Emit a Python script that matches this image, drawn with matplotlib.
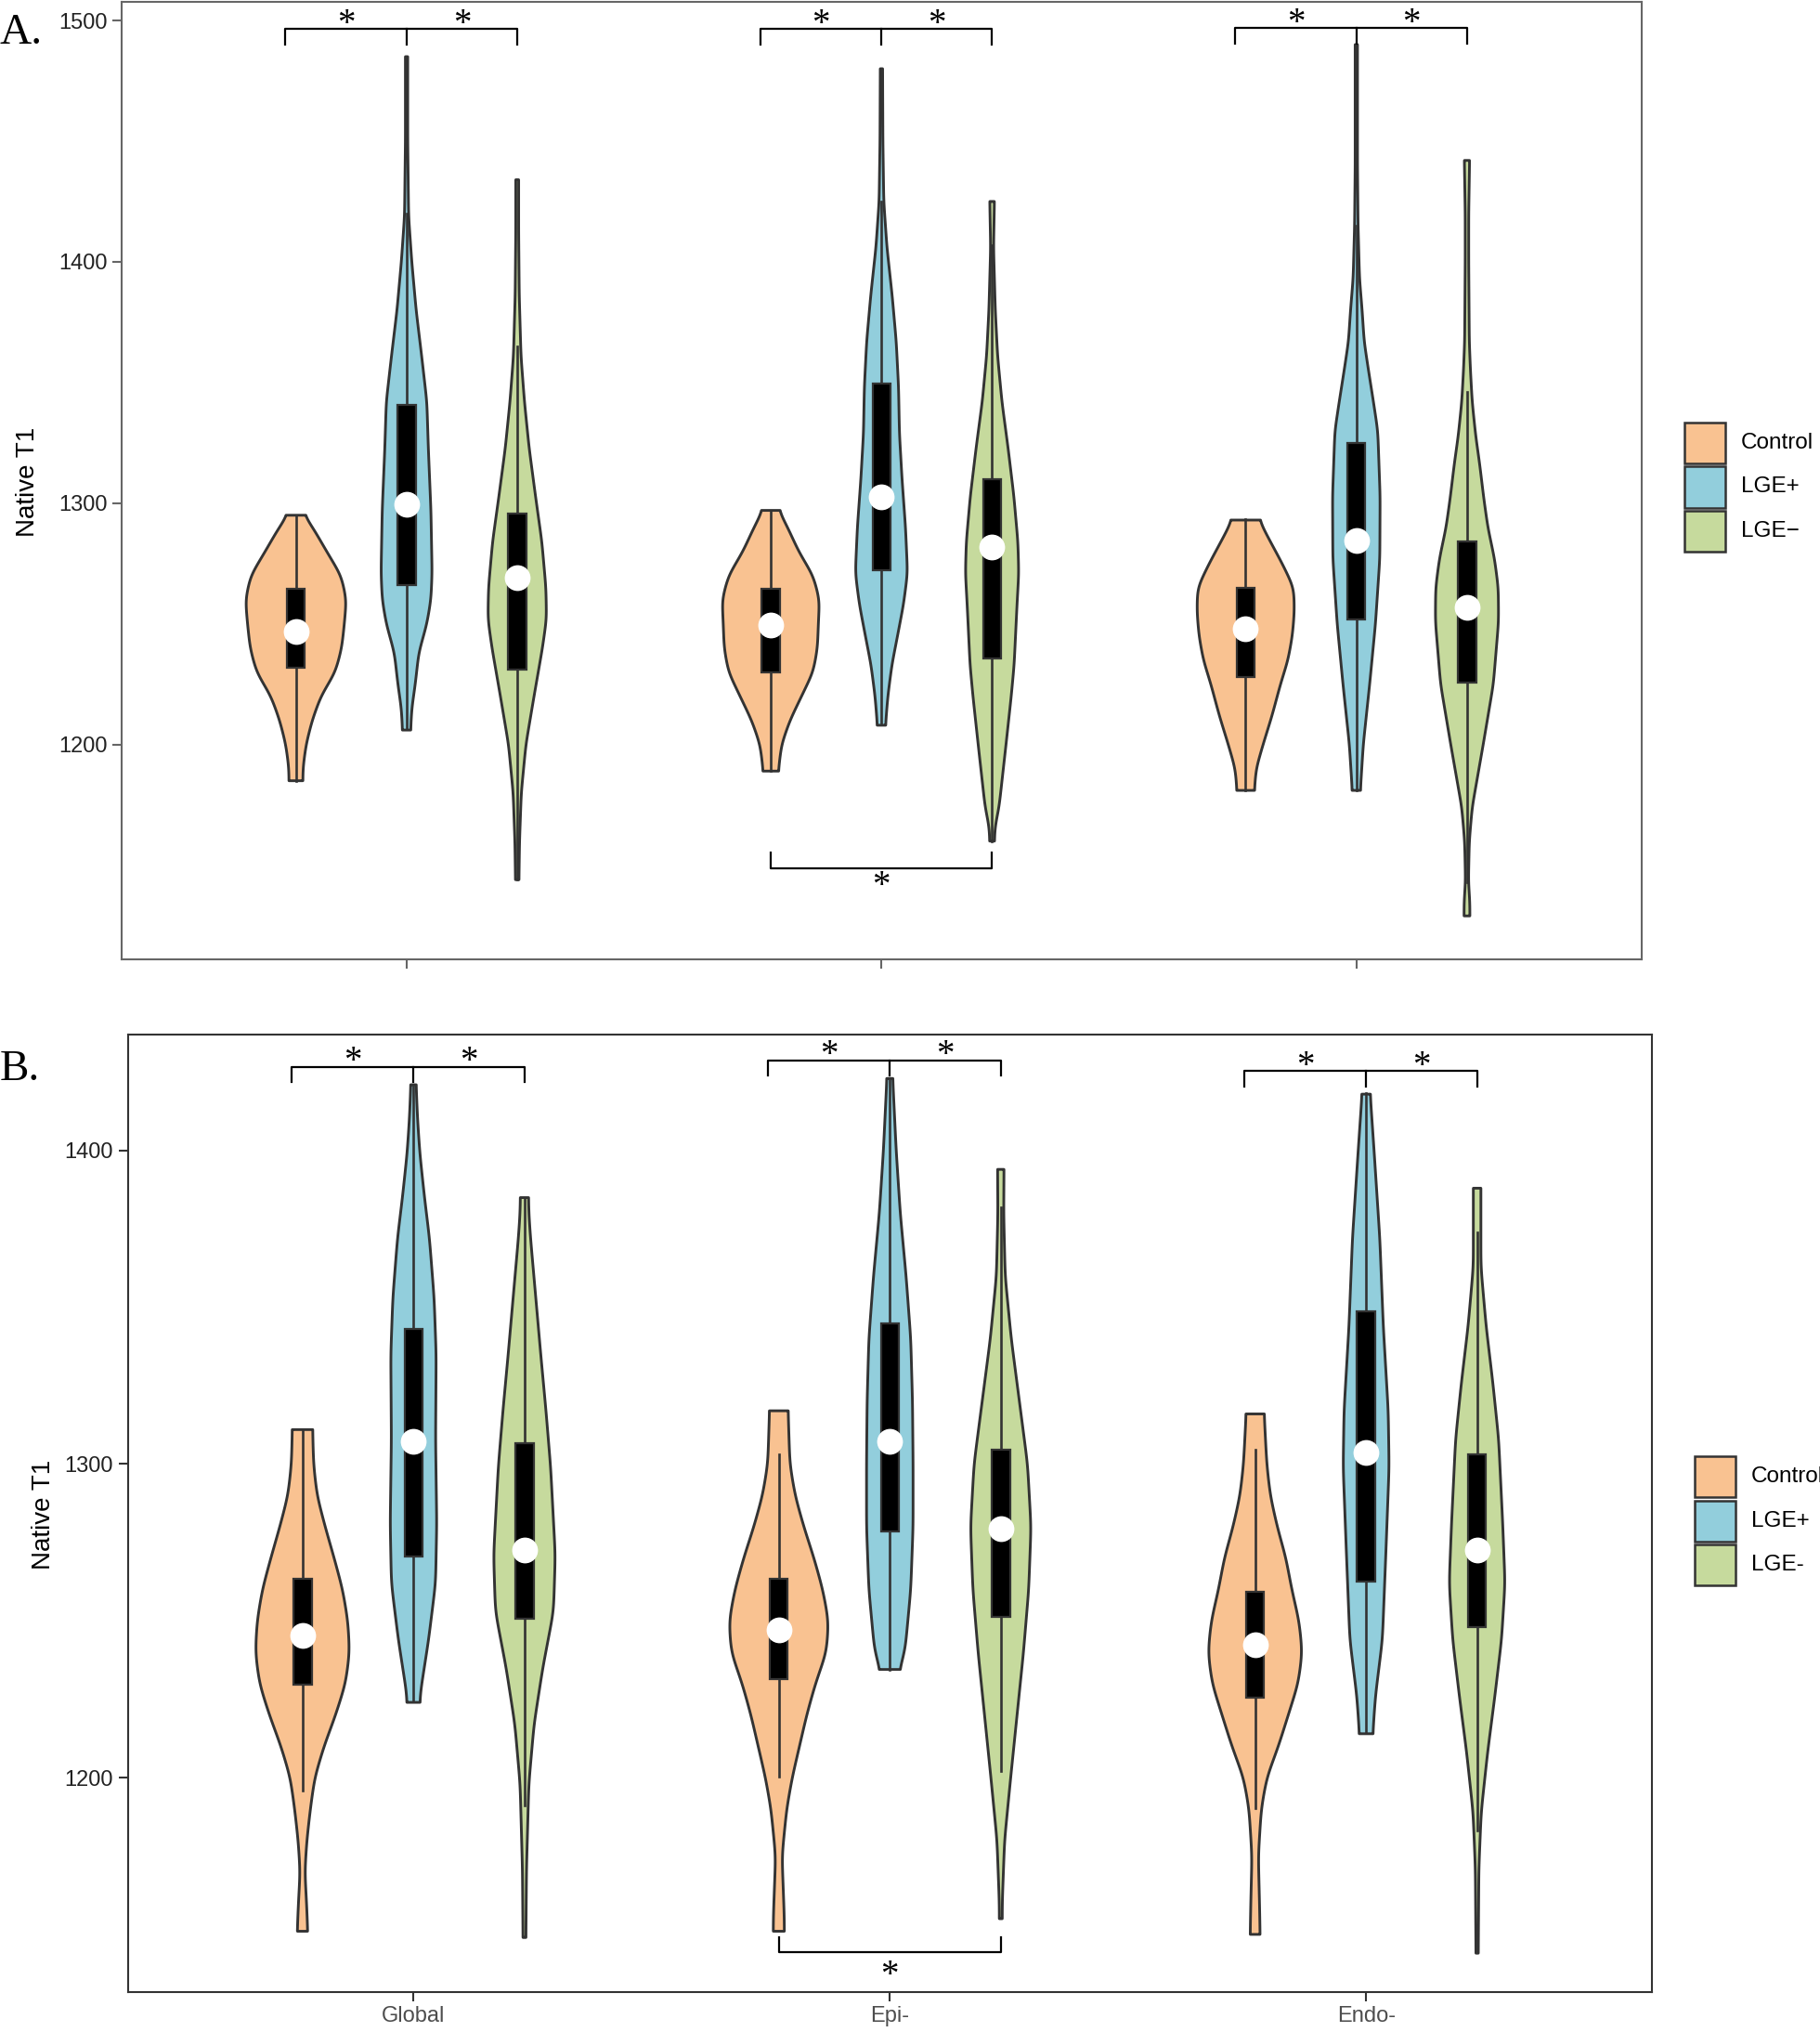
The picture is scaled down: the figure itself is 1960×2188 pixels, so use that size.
import numpy as np
import matplotlib.pyplot as plt
from matplotlib.patches import Polygon, Rectangle
import matplotlib.transforms as mtransforms

plt.rcParams['font.family'] = ['Liberation Sans', 'DejaVu Sans']

regions = ["Global", "Epi-", "Endo-"]
groups = ["Control", "LGE+", "LGE-"]
groups_a = ["Control", "LGE+", "LGE\u2212"]
colors = ["#F9C291", "#92CEDC", "#C6DA9D"]

# ---- panel A summary stats (rows = region, cols = group) ----
A_med = [[1247, 1299.4, 1269], [1249.7, 1302.5, 1281.9], [1248, 1284.4, 1256.7]]
A_q1 = [[1231.7, 1266, 1231], [1230, 1272.3, 1235.5], [1228, 1251.7, 1225.7]]
A_q3 = [[1264.4, 1340.6, 1295.8], [1264.4, 1349.6, 1310], [1265, 1324.9, 1284]]
A_wlo = [[1185, 1206.4, 1144], [1189, 1208.5, 1160], [1181, 1181, 1143]]
A_whi = [[1295, 1420, 1365], [1297, 1425, 1407], [1293.5, 1415, 1346]]

# ---- panel B summary stats ----
B_med = [[1245.4, 1307.2, 1272.6], [1247, 1307.2, 1279.5], [1242.5, 1303.6, 1272.6]]
B_q1 = [[1229.7, 1270.5, 1250.8], [1231.3, 1278.5, 1251.2], [1225.5, 1262.6, 1248]]
B_q3 = [[1263.4, 1343.2, 1306.6], [1263.4, 1345, 1304.7], [1259.2, 1348.7, 1303.2]]
B_wlo = [[1195.8, 1224.5, 1191], [1200.3, 1234.5, 1202], [1190.3, 1214.6, 1183]]
B_whi = [[1311, 1421, 1385], [1303, 1423, 1382], [1304.7, 1418.4, 1373.8]]

# ---- violin outlines: (T1 value, relative density width) ----
a_glo_con = [(1185, 24), (1190, 24), (1200, 35), (1210, 56), (1220, 86), (1230, 136), (1240, 158),
             (1250, 167), (1260, 174), (1270, 156), (1280, 106), (1290, 58), (1295, 27)]
a_glo_pos = [(1206, 14), (1215, 18), (1225, 30), (1238, 42), (1250, 70), (1260, 84), (1271, 88), (1297, 84),
             (1323, 75), (1342, 70), (1361, 52), (1380, 33), (1400, 18), (1419, 7), (1450, 4), (1485, 4)]
a_glo_neg = [(1144, 6), (1160, 8), (1180, 14), (1200, 30), (1220, 58), (1240, 87), (1252, 101), (1265, 99),
             (1284, 85), (1303, 63), (1323, 41), (1342, 25), (1361, 13), (1386, 7), (1412, 5), (1434, 5)]
a_epi_con = [(1189, 26), (1200, 37), (1210, 66), (1220, 106), (1230, 146), (1240, 161), (1250, 164),
             (1260, 168), (1270, 146), (1280, 96), (1290, 58), (1297, 27)]
a_epi_pos = [(1208, 14), (1220, 22), (1233, 36), (1246, 57), (1258, 76), (1271, 90), (1290, 83), (1310, 71),
             (1329, 62), (1348, 59), (1367, 51), (1386, 37), (1406, 19), (1425, 8), (1450, 5), (1480, 4)]
a_epi_neg = [(1160, 8), (1166, 10), (1174, 24), (1200, 48), (1220, 66), (1233, 76), (1258, 86), (1271, 92),
             (1284, 89), (1303, 75), (1323, 55), (1342, 34), (1361, 19), (1380, 11), (1406, 5), (1425, 8)]
a_end_con = [(1181, 30), (1190, 36), (1200, 60), (1212, 91), (1225, 120), (1235, 146), (1245, 161),
             (1255, 168), (1265, 166), (1275, 126), (1285, 81), (1293, 46)]
a_end_pos = [(1181, 14), (1200, 24), (1225, 46), (1250, 66), (1277, 81), (1303, 82), (1330, 74), (1342, 59),
             (1355, 42), (1367, 27), (1380, 20), (1393, 11), (1415, 6), (1440, 4), (1490, 4)]
a_end_neg = [(1129, 10), (1135, 10), (1143, 5), (1160, 8), (1174, 18), (1200, 56), (1225, 91), (1251, 109),
             (1265, 108), (1277, 95), (1290, 72), (1302, 58), (1316, 44), (1328, 30), (1342, 18), (1355, 12),
             (1367, 8), (1400, 6), (1420, 6), (1442, 9)]

b_glo_con = [(1151, 18), (1160, 14), (1170, 8), (1180, 15), (1190, 27), (1200, 42), (1210, 74), (1220, 114),
             (1230, 148), (1240, 162), (1250, 156), (1260, 138), (1270, 109), (1280, 78), (1290, 50), (1300, 38), (1311, 35)]
b_glo_pos = [(1224, 22), (1226, 22), (1244, 52), (1262, 76), (1281, 80), (1308, 76), (1335, 78), (1353, 71),
             (1372, 55), (1385, 38), (1399, 22), (1410, 14), (1421, 9)]
b_glo_neg = [(1149, 5), (1171, 7), (1198, 15), (1217, 33), (1235, 63), (1253, 100), (1271, 106), (1299, 90),
             (1317, 74), (1335, 56), (1353, 39), (1372, 21), (1380, 15), (1385, 14)]
b_epi_con = [(1151, 19), (1155, 19), (1165, 15), (1175, 11), (1190, 27), (1200, 46), (1210, 71), (1220, 96),
             (1230, 126), (1240, 164), (1250, 171), (1260, 151), (1270, 121), (1280, 86), (1290, 56), (1300, 38), (1317, 32)]
b_epi_pos = [(1234.5, 32), (1240, 52), (1250, 62), (1260, 72), (1280, 80), (1300, 80), (1320, 78), (1340, 72),
             (1360, 56), (1380, 36), (1400, 22), (1423, 10)]
b_epi_neg = [(1155, 5), (1160, 5), (1180, 13), (1200, 34), (1220, 56), (1240, 78), (1260, 96), (1280, 104),
             (1300, 92), (1320, 64), (1340, 36), (1360, 15), (1380, 10), (1394, 11)]
b_end_con = [(1150, 17), (1160, 15), (1175, 11), (1190, 21), (1200, 40), (1210, 80), (1220, 114), (1230, 148),
             (1240, 162), (1250, 151), (1260, 126), (1270, 106), (1280, 76), (1290, 52), (1300, 40), (1316, 31)]
b_end_pos = [(1214, 23), (1226, 32), (1244, 56), (1272, 68), (1299, 79), (1317, 76), (1344, 59), (1372, 47),
             (1399, 28), (1418, 14)]
b_end_neg = [(1144, 4), (1171, 6), (1189, 14), (1208, 36), (1226, 61), (1244, 84), (1262, 96), (1281, 88),
             (1308, 74), (1326, 54), (1344, 31), (1363, 13), (1388, 13)]

A_profiles = [[a_glo_con, a_glo_pos, a_glo_neg], [a_epi_con, a_epi_pos, a_epi_neg], [a_end_con, a_end_pos, a_end_neg]]
B_profiles = [[b_glo_con, b_glo_pos, b_glo_neg], [b_epi_con, b_epi_pos, b_epi_neg], [b_end_con, b_end_pos, b_end_neg]]

# significance brackets: top bracket heights per region, bottom one for Epi-
A_top = [1496.4, 1496.4, 1497]
A_bottom_epi = 1148.7
B_top = [1426.6, 1428.7, 1425.3]
B_bottom_epi = 1144.4

W, H = 1960, 2188
DODGE = 0.233
WSCALE = 1 / 819.0
BOXW = 0.038
EDGE = "#333333"
SERIF = ['Liberation Serif', 'DejaVu Serif']

fig = plt.figure(figsize=(W / 100, H / 100), dpi=100)


def fx(px):
    return px / W


def fy(py):
    return 1 - py / H


def outline(prof):
    v = np.array([p[0] for p in prof], float)
    w = np.array([p[1] for p in prof], float)
    o = np.argsort(v)
    v, w = v[o], w[o]
    grid = np.linspace(v[0], v[-1], 400)
    ww = np.interp(grid, v, w)
    step = grid[1] - grid[0]
    sig = 3.0 / step
    k = np.arange(-int(3 * sig), int(3 * sig) + 1)
    ker = np.exp(-0.5 * (k / sig) ** 2)
    ker /= ker.sum()
    pad = len(k) // 2
    ww = np.convolve(np.pad(ww, pad, mode='edge'), ker, mode='valid')
    return grid, ww * WSCALE / 2


def star(ax, x, y, dy):
    tr = mtransforms.offset_copy(ax.transData, fig, y=dy, units='points')
    ax.text(x, y, '*', transform=tr, ha='center', va='baseline', fontsize=28, family=SERIF, zorder=7)


def draw_panel(ax, profiles, med, q1, q3, wlo, whi, top, bottom_epi, drop, spine_col, up_dy, down_dy):
    for r in range(3):
        for g in range(3):
            x = r + (g - 1) * DODGE
            yy, hw = outline(profiles[r][g])
            xs = np.concatenate([x - hw, (x + hw)[::-1]])
            ys = np.concatenate([yy, yy[::-1]])
            ax.add_patch(Polygon(np.column_stack([xs, ys]), closed=True, facecolor=colors[g],
                                 edgecolor=EDGE, lw=2.1, joinstyle='round', zorder=2))
            ax.plot([x, x], [wlo[r][g], whi[r][g]], color=EDGE, lw=1.9, zorder=3)
            ax.add_patch(Rectangle((x - BOXW / 2, q1[r][g]), BOXW, q3[r][g] - q1[r][g],
                                   facecolor="black", edgecolor=EDGE, lw=1.6, zorder=4))
            ax.plot(x, med[r][g], 'o', color='white', ms=20, mec='none', zorder=5)
        # top bracket: Control - LGE+ - LGE-
        xl = r - DODGE - 0.022
        xm = r
        xr = r + DODGE
        y = top[r]
        ax.plot([xl, xl, xr, xr], [y - drop, y, y, y - drop], color='black', lw=1.6, zorder=6)
        ax.plot([xm, xm], [y, y - drop], color='black', lw=1.6, zorder=6)
        star(ax, (xl + xm) / 2, y, up_dy)
        star(ax, (xm + xr) / 2, y, up_dy)
    # bottom bracket (Epi-: Control vs LGE-)
    xl = 1 - DODGE
    xr = 1 + DODGE
    y = bottom_epi
    ax.plot([xl, xl, xr, xr], [y + drop, y, y, y + drop], color='black', lw=1.6, zorder=6)
    star(ax, 1, y, down_dy)
    ax.set_xlim(-0.6, 2.6)
    ax.set_xticks(range(3))
    for s in ax.spines.values():
        s.set_color(spine_col)
        s.set_linewidth(1.5)
    ax.tick_params(length=7, width=1.5, color=spine_col, labelsize=17, labelcolor='#222222', pad=4)


axA = fig.add_axes([fx(131), fy(1033), fx(1767.5 - 131), (1033 - 2) / H])
draw_panel(axA, A_profiles, A_med, A_q1, A_q3, A_wlo, A_whi, A_top, A_bottom_epi, 6.5, '#666666', -3.5, -21)
axA.set_ylim(1111, 1507.7)
axA.set_yticks([1200, 1300, 1400, 1500])
axA.set_xticklabels([])

axB = fig.add_axes([fx(137.5), fy(2145), fx(1779 - 137.5), (2145 - 1114) / H])
draw_panel(axB, B_profiles, B_med, B_q1, B_q3, B_wlo, B_whi, B_top, B_bottom_epi, 4.8, '#333333', -3, -25)
axB.set_ylim(1131.6, 1437)
axB.set_yticks([1200, 1300, 1400])
axB.set_xticklabels(regions, color='#4D4D4D', fontsize=17)

# axis titles and panel letters
fig.text(fx(30), fy(519), "Native T1", rotation=90, ha='center', va='center', fontsize=20)
fig.text(fx(47), fy(1631), "Native T1", rotation=90, ha='center', va='center', fontsize=20)
fig.text(fx(0), fy(47), "A.", ha='left', va='baseline', fontsize=34, family=SERIF)
fig.text(fx(0), fy(1163), "B.", ha='left', va='baseline', fontsize=34, family=SERIF)


# legends drawn by hand
def legend(x0, tops, labels, tx):
    for top, lab, c in zip(tops, labels, colors):
        fig.add_artist(Rectangle((fx(x0), fy(top + 44)), 44 / W, 44 / H, transform=fig.transFigure,
                                 facecolor=c, edgecolor=EDGE, lw=1.8))
        fig.text(fx(tx), fy(top + 22), lab, ha='left', va='center', fontsize=17.5, color='black')


legend(1814, [455, 502.5, 550], groups_a, 1875)
legend(1825, [1567.6, 1615.7, 1663], groups, 1886)

fig.savefig("out.png", dpi=100)
